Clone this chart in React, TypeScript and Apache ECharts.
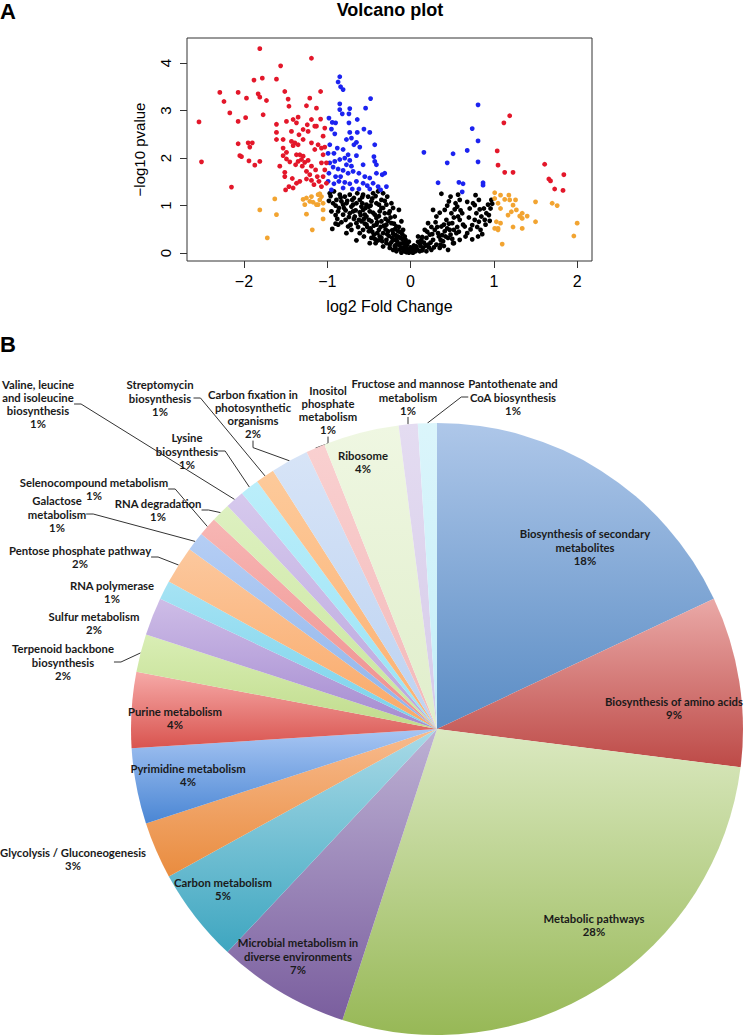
import React, { useEffect, useRef } from "react";
import * as echarts from "echarts";

// ---------------- Volcano plot data ----------------
const X_TICKS = [-2, -1, 0, 1, 2];
const Y_TICKS = [0, 1, 2, 3, 4];

const RED_POINTS = [
  [-1.81, 4.3], [-1.19, 4.1], [-1.56, 3.94], [-2.29, 3.38], [-2.07, 3.38], [-2.24, 3.19], [-1.97, 3.26],
  [-1.88, 3.64], [-1.78, 3.68], [-1.61, 3.66], [-1.83, 3.35], [-1.81, 3.28], [-1.73, 3.21], [-1.51, 3.4],
  [-1.47, 3.24], [-1.46, 3.09], [-1.21, 3.26], [-1.08, 3.4], [-2.17, 2.95], [-2.07, 2.77], [-1.98, 2.85],
  [-1.77, 2.91], [-2.54, 2.76], [-2.51, 1.92], [-2.15, 1.39], [-2.07, 2.3], [-2.05, 2.05], [-2.03, 2.03],
  [-1.95, 2.32], [-1.93, 2.23], [-1.9, 2.32], [-1.94, 1.94], [-1.87, 1.85], [-1.81, 1.93], [-1.61, 2.71],
  [-1.61, 2.54], [-1.61, 2.39], [-1.53, 2.21], [-1.53, 2.05], [-1.49, 2.12], [-1.49, 1.98], [-1.45, 1.92],
  [-1.57, 1.83], [-1.51, 1.7], [-1.51, 1.61], [-1.42, 1.57], [-1.46, 1.4], [-1.5, 1.33], [-1.41, 1.37],
  [-1.37, 1.47], [-1.33, 1.51], [-1.37, 2.74], [-1.35, 2.86], [-1.41, 2.81], [-1.49, 2.77], [-1.43, 2.35],
  [-1.39, 2.32], [-1.35, 2.28], [-1.41, 2.26], [-1.37, 2.07], [-1.33, 2.07], [-1.29, 2.04], [-1.31, 1.97],
  [-1.35, 1.93], [-1.27, 1.91], [-1.23, 1.95], [-1.38, 1.86], [-1.3, 1.83], [-1.25, 1.72], [-1.19, 1.83],
  [-1.21, 1.65], [-1.25, 1.56], [-1.19, 1.53], [-1.16, 1.44], [-1.14, 1.75], [-1.12, 1.61], [-1.1, 1.51],
  [-1.07, 1.9], [-1.05, 2.07], [-1.07, 2.21], [-1.03, 2.23], [-1.11, 2.28], [-1.15, 2.18], [-1.19, 2.32],
  [-1.29, 2.39], [-1.23, 2.56], [-1.24, 2.7], [-1.19, 2.81], [-1.13, 2.67], [-1.08, 2.82], [-1.03, 2.63],
  [-1.05, 2.46], [-1.13, 3.05], [-1.25, 3.1], [-1.29, 2.6], [-1.15, 2.67], [-1.01, 1.9], [-1.03, 1.75],
  [-1.05, 1.61], [-1.01, 1.47], [-1.07, 1.4], [-1.53, 2.39], [-1.43, 2.56], [-1.34, 2.49],
  [1.19, 2.89], [1.12, 2.74], [1.04, 2.15], [1.05, 1.85], [1.13, 1.7], [1.23, 1.7], [1.61, 1.87],
  [1.66, 1.56], [1.68, 1.52], [1.84, 1.65], [1.73, 1.35], [1.83, 1.32],
];

const ORANGE_POINTS = [
  [-1.81, 0.91], [-1.63, 1.14], [-1.61, 0.81], [-1.72, 0.32], [-1.29, 1.13], [-1.25, 1.16], [-1.21, 1.09],
  [-1.19, 1.19], [-1.27, 1.02], [-1.17, 1.07], [-1.13, 1.02], [-1.11, 1.23], [-1.09, 1.25], [-1.07, 1.19],
  [-1.09, 1.12], [-1.05, 1.05], [-1.11, 1.02], [-1.18, 0.49], [-1.25, 0.82], [-1.05, 0.91], [-1.05, 0.72],
  [1.01, 1.27], [1.01, 1.15], [1.08, 1.22], [1.18, 1.22], [1.05, 1.05], [1.13, 1.13], [1.19, 1.12],
  [1.26, 1.12], [1.08, 0.94], [1.23, 1.01], [1.21, 0.87], [1.27, 0.91], [1.34, 0.84], [1.31, 0.78],
  [1.4, 0.78], [1.34, 0.73], [1.5, 1.08], [1.5, 0.66], [1.7, 1.05], [1.76, 1.0], [2.0, 0.63], [1.96, 0.36],
  [1.1, 0.19], [1.03, 0.66], [1.01, 0.52], [1.05, 0.52], [1.08, 0.63], [1.23, 0.55], [1.34, 0.52],
  [1.17, 0.8], [1.05, 0.49],
];

const BLUE_POINTS = [
  [-0.85, 3.71], [-0.87, 3.6], [-0.84, 3.5], [-0.81, 3.44], [-0.48, 3.25], [-0.85, 3.14], [-0.85, 3.02],
  [-0.73, 3.04], [-0.54, 3.05], [-0.82, 2.93], [-0.74, 2.93], [-0.98, 2.84], [-0.94, 2.75], [-0.9, 2.74],
  [-0.64, 2.81], [-0.95, 2.61], [-0.91, 2.51], [-0.74, 2.74], [-0.64, 2.54], [-0.73, 2.54], [-0.56, 2.61],
  [-0.49, 2.54], [-0.77, 2.39], [-0.71, 2.42], [-0.65, 2.33], [-0.68, 2.28], [-0.61, 2.23], [-0.43, 2.28],
  [-0.97, 2.28], [-0.99, 2.1], [-0.92, 2.1], [-0.88, 2.21], [-0.81, 2.18], [-0.75, 2.07], [-0.65, 2.05],
  [-0.44, 2.03], [-0.43, 1.93], [-0.41, 1.86], [-0.97, 1.9], [-0.91, 1.93], [-0.85, 1.97], [-0.79, 2.0],
  [-0.73, 1.95], [-0.77, 1.86], [-0.71, 1.83], [-0.57, 1.86], [-0.93, 1.81], [-0.87, 1.77], [-0.81, 1.74],
  [-0.98, 1.68], [-0.9, 1.61], [-0.84, 1.61], [-0.75, 1.68], [-0.69, 1.72], [-0.62, 1.68], [-0.55, 1.61],
  [-0.49, 1.58], [-0.41, 1.68], [-0.34, 1.65], [-0.31, 1.68], [-0.99, 1.51], [-0.92, 1.46], [-0.86, 1.51],
  [-0.79, 1.49], [-0.73, 1.46], [-0.65, 1.51], [-0.57, 1.47], [-0.52, 1.42], [-0.45, 1.47], [-0.39, 1.4],
  [-0.95, 1.33], [-0.81, 1.37], [-0.7, 1.35], [-0.62, 1.35], [-0.49, 1.35], [-0.36, 1.33], [-0.29, 1.4],
  [0.81, 3.12], [0.74, 2.62], [0.81, 2.36], [0.68, 2.16], [0.51, 2.09], [0.44, 1.9], [0.16, 2.12],
  [0.81, 1.92], [0.33, 1.48], [0.58, 1.49], [0.63, 1.46], [0.87, 1.48], [0.87, 1.43], [0.62, 1.29],
];

const BLACK_POINTS = [
  [-0.98, 1.1], [-0.94, 0.51], [-0.97, 1.26], [-0.92, 1.3], [-0.9, 1.0], [-0.87, 0.88], [-0.88, 0.72],
  [-0.83, 0.65], [-0.78, 0.7], [-0.75, 0.56], [-0.81, 0.81], [-0.85, 1.23], [-0.79, 1.19], [-0.73, 1.23],
  [-0.68, 1.16], [-0.64, 1.26], [-0.57, 1.23], [-0.51, 1.19], [-0.45, 1.26], [-0.39, 1.3], [-0.33, 1.26],
  [-0.28, 1.19], [-0.77, 1.05], [-0.71, 0.98], [-0.65, 1.05], [-0.59, 0.98], [-0.53, 1.02], [-0.47, 1.09],
  [-0.41, 1.05], [-0.35, 1.12], [-0.29, 1.02], [-0.23, 1.05], [-0.73, 0.84], [-0.67, 0.77], [-0.61, 0.86],
  [-0.55, 0.81], [-0.49, 0.88], [-0.43, 0.81], [-0.37, 0.88], [-0.31, 0.84], [-0.25, 0.88], [-0.19, 0.77],
  [-0.65, 0.63], [-0.59, 0.67], [-0.53, 0.6], [-0.47, 0.67], [-0.41, 0.6], [-0.35, 0.67], [-0.29, 0.6],
  [-0.23, 0.63], [-0.17, 0.56], [-0.61, 0.42], [-0.56, 0.35], [-0.5, 0.46], [-0.44, 0.39], [-0.38, 0.49],
  [-0.33, 0.42], [-0.27, 0.46], [-0.21, 0.41], [-0.15, 0.46], [-0.65, 0.27], [-0.49, 0.21], [-0.39, 0.27],
  [-0.29, 0.28], [-0.23, 0.23], [-0.17, 0.3], [-0.12, 0.32], [-0.33, 0.14], [-0.25, 0.11], [-0.19, 0.15],
  [-0.14, 0.18], [-0.09, 0.21], [-0.11, 0.11], [-0.06, 0.14], [-0.03, 0.07], [-0.07, 0.04], [0.01, 0.05],
  [0.03, 0.01], [-0.02, 0.01], [0.05, 0.07], [-0.17, 0.04], [-0.21, 0.07], [-0.11, 0.01], [-0.05, 0.11],
  [-0.22, 0.32], [-0.35, 0.32], [-0.47, 0.32], [-0.57, 0.49], [-0.71, 0.49], [-0.77, 0.42], [-0.42, 0.21],
  [-0.53, 0.77], [-0.81, 1.02], [-0.89, 1.12], [-0.61, 1.12], [-0.33, 0.95], [-0.21, 0.95], [-0.14, 0.91],
  [-0.11, 0.67], [-0.41, 0.74], [-0.69, 0.88], [-0.83, 1.09], [-0.57, 0.91], [-0.09, 0.49], [-0.07, 0.35],
  [-0.17, 0.18], [-0.29, 0.21], [-0.68, 0.72], [-0.62, 0.7], [-0.55, 0.62], [-0.48, 0.52], [-0.44, 0.58],
  [-0.4, 0.42], [-0.36, 0.55], [-0.3, 0.5], [-0.26, 0.36], [-0.22, 0.48], [-0.18, 0.38], [-0.16, 0.25],
  [-0.12, 0.2], [-0.08, 0.12], [-0.04, 0.18], [-0.95, 0.88], [-0.9, 0.62], [-0.86, 0.95], [-0.78, 0.9],
  [-0.7, 1.12], [-0.58, 1.05], [-0.5, 0.98], [-0.46, 1.15], [-0.38, 1.02], [-0.3, 0.72], [-0.26, 0.84],
  [-0.2, 0.62], [-0.14, 0.55], [-0.1, 0.4], [-0.06, 0.28], [-0.02, 0.24],
  [-0.96, 1.2], [-0.93, 1.05], [-0.9, 0.8], [-0.87, 0.6], [-0.84, 1.17], [-0.8, 0.95], [-0.76, 1.1],
  [-0.74, 0.76], [-0.72, 0.6], [-0.69, 1.02], [-0.66, 0.9], [-0.63, 0.55], [-0.6, 0.8], [-0.58, 1.18],
  [-0.56, 0.72], [-0.54, 0.95], [-0.52, 0.55], [-0.5, 0.7], [-0.48, 1.0], [-0.46, 0.45], [-0.45, 0.85],
  [-0.43, 0.3], [-0.42, 1.2], [-0.4, 0.65], [-0.38, 0.78], [-0.37, 0.35], [-0.35, 0.95], [-0.34, 0.25],
  [-0.32, 0.58], [-0.31, 1.1], [-0.28, 0.4], [-0.27, 0.68], [-0.25, 0.18], [-0.24, 0.75], [-0.2, 0.28],
  [-0.19, 0.5], [-0.18, 0.1], [-0.15, 0.35], [-0.13, 0.08], [-0.13, 0.45], [-0.1, 0.3], [-0.08, 0.05],
  [-0.07, 0.22], [-0.05, 0.02], [-0.04, 0.08], [-0.01, 0.04], [0.0, 0.12], [0.02, 0.02],
  [0.07, 0.14], [0.11, 0.21], [0.15, 0.11], [0.13, 0.28], [0.19, 0.32], [0.21, 0.18], [0.25, 0.07],
  [0.23, 0.39], [0.27, 0.28], [0.29, 0.49], [0.31, 0.18], [0.34, 0.35], [0.37, 0.56], [0.39, 0.25],
  [0.41, 0.46], [0.43, 0.7], [0.45, 0.32], [0.47, 0.49], [0.49, 0.84], [0.5, 0.63], [0.52, 0.21],
  [0.54, 1.05], [0.55, 0.42], [0.57, 0.77], [0.37, 1.25], [0.48, 1.19], [0.57, 1.23], [0.27, 0.91],
  [0.31, 0.77], [0.21, 0.63], [0.17, 0.49], [0.09, 0.35], [0.45, 0.07], [0.35, 0.11], [0.19, 0.04],
  [0.11, 0.04], [0.41, 0.91], [0.46, 1.09], [0.02, 0.1], [0.06, 0.04], [0.12, 0.15], [0.16, 0.22],
  [0.22, 0.12], [0.26, 0.4], [0.32, 0.55], [0.36, 0.18], [0.42, 0.35], [0.46, 0.62], [0.52, 0.75],
  [0.56, 0.55], [0.78, 1.22], [0.97, 1.12], [0.98, 1.04], [0.91, 0.84], [0.94, 0.8], [0.85, 0.77],
  [0.82, 0.66], [0.77, 0.7], [0.84, 0.49], [0.81, 0.35], [0.74, 0.29], [0.68, 0.42], [0.65, 0.56],
  [0.62, 0.84], [0.71, 0.94], [0.68, 1.08], [0.59, 1.12], [0.56, 0.98], [0.77, 1.01], [0.88, 0.94],
  [0.79, 0.84], [0.74, 0.59], [0.59, 0.7], [0.52, 0.49], [0.59, 0.28], [0.51, 0.21], [0.89, 0.7],
  [0.96, 0.94], [0.82, 1.12], [0.48, 0.39], [0.36, 0.28],
  [0.04, 0.16], [0.08, 0.08], [0.09, 0.24], [0.14, 0.06], [0.14, 0.34], [0.18, 0.16], [0.2, 0.45],
  [0.24, 0.22], [0.25, 0.55], [0.28, 0.12], [0.3, 0.65], [0.33, 0.42], [0.35, 0.85], [0.38, 0.38],
  [0.4, 0.15], [0.4, 0.6], [0.44, 1.0], [0.44, 0.52], [0.5, 0.3], [0.53, 0.92], [0.58, 0.45],
  [0.6, 0.9], [0.63, 0.6], [0.66, 0.35], [0.7, 0.75], [0.72, 0.5], [0.75, 1.05], [0.8, 0.55],
  [0.83, 0.92], [0.86, 0.4], [0.9, 0.6], [0.93, 1.02], [0.95, 0.68],
];

// ---------------- Pie chart data ----------------
const PIE_LABELS = [
  "Biosynthesis of secondary\nmetabolites",
  "Biosynthesis of amino acids",
  "Metabolic pathways",
  "Microbial metabolism in\ndiverse environments",
  "Carbon metabolism",
  "Glycolysis / Gluconeogenesis",
  "Pyrimidine metabolism",
  "Purine metabolism",
  "Terpenoid backbone\nbiosynthesis",
  "Sulfur metabolism",
  "RNA polymerase",
  "Pentose phosphate pathway",
  "Galactose\nmetabolism",
  "Selenocompound metabolism",
  "RNA degradation",
  "Valine, leucine\nand isoleucine\nbiosynthesis",
  "Lysine\nbiosynthesis",
  "Streptomycin\nbiosynthesis",
  "Carbon fixation in\nphotosynthetic\norganisms",
  "Inositol\nphosphate\nmetabolism",
  "Ribosome",
  "Fructose and mannose\nmetabolism",
  "Pantothenate and\nCoA biosynthesis",
];
const PIE_PERCENTS = [18, 9, 28, 7, 5, 3, 4, 4, 2, 2, 1, 2, 1, 1, 1, 1, 1, 1, 2, 1, 4, 1, 1];

// ---------------- Styles ----------------
const PIE_TOP = [
  "#aec7e9", "#eaa9a7", "#dbe9c1", "#bdb1d4", "#a9dae7", "#f8bb8e", "#a8c6f3", "#f6aaa8",
  "#d9eeb5", "#cebde7", "#a6e3f4", "#fcc89e", "#b5cef4", "#f7b6b4", "#ddf0c0", "#d6c9ed",
  "#bbeefa", "#fdca9b", "#d7e4f7", "#f9d0d0", "#eff7e2", "#e4dcf1", "#dbf5fb",
];
const PIE_BOTTOM = [
  "#5a8cc4", "#bd4a47", "#97b856", "#7a5e9e", "#3ea6c0", "#e98c3f", "#4a86d4", "#d9544f",
  "#c0dc8c", "#a48ad0", "#79d2ea", "#f9a866", "#8fb3ea", "#ee8e8c", "#c9e69c", "#b9a5dd",
  "#97e2f5", "#fbb070", "#bcd2f1", "#f3b9b9", "#e0eecb", "#d6cbe9", "#c4eef8",
];
const LABEL_POS = [
  [585, 547], [674, 708], [594, 925], [298, 956], [223, 889], [73, 859], [188, 775], [175, 718],
  [63, 662], [94, 623], [112, 592], [80, 557], [57, 514], [94, 489], [158, 510], [38, 404],
  [187, 451], [160, 398], [253, 414], [328, 410], [363, 462], [408, 397], [513, 397],
];
const HAS_LEADER = [
  false, false, false, false, false, false, false, false,
  true, false, false, true, true, true, true, true,
  true, true, true, true, false, true, true,
];

const SANS = "'Liberation Sans', Arial, Helvetica, sans-serif";
const PIE_FONT = "Lato, 'Open Sans', sans-serif";

const fmtTick = (v: number) => (v < 0 ? "\u2212" + Math.abs(v) : String(v));

export default function App() {
  const ref = useRef<HTMLDivElement>(null);

  useEffect(() => {
    if (!ref.current) return;
    const chart = echarts.init(ref.current, null, { renderer: "svg" });

    const pieData = PIE_LABELS.map((name, i) => ({
      name,
      value: PIE_PERCENTS[i],
      itemStyle: {
        color: new echarts.graphic.LinearGradient(0, 0, 0, 1, [
          { offset: 0, color: PIE_TOP[i] },
          { offset: 1, color: PIE_BOTTOM[i] },
        ]),
      },
      labelLine: { show: HAS_LEADER[i] },
    }));

    const scatter = (data: number[][], color: string) => ({
      type: "scatter",
      data,
      symbol: "circle",
      symbolSize: 4.8,
      itemStyle: { color, opacity: 1 },
      silent: true,
    });

    chart.setOption({
      animation: false,
      textStyle: { fontFamily: SANS },
      graphic: [
        {
          type: "text",
          x: 0,
          y: 0,
          style: { text: "A", fontSize: 22, fontWeight: "bold", fontFamily: SANS, fill: "#000", verticalAlign: "top" },
        },
        {
          type: "text",
          x: 0,
          y: 333,
          style: { text: "B", fontSize: 22, fontWeight: "bold", fontFamily: SANS, fill: "#000", verticalAlign: "top" },
        },
        {
          type: "text",
          x: 390,
          y: 1,
          style: {
            text: "Volcano plot",
            fontSize: 18,
            fontWeight: "bold",
            fontFamily: SANS,
            fill: "#000",
            align: "center",
            verticalAlign: "top",
          },
        },
      ],
      grid: {
        left: 187,
        top: 38,
        width: 405,
        height: 223,
        show: true,
        borderColor: "#333",
        borderWidth: 1,
        backgroundColor: "transparent",
        outerBoundsMode: "none",
        containLabel: false,
      },
      xAxis: {
        type: "value",
        min: -2.684,
        max: 2.178,
        position: "bottom",
        name: "log2 Fold Change",
        nameLocation: "middle",
        nameGap: 37,
        nameTextStyle: { fontSize: 16, color: "#000", fontFamily: SANS },
        axisLine: { show: false, onZero: false },
        axisTick: { show: true, length: 7, lineStyle: { color: "#333" }, customValues: X_TICKS },
        axisLabel: { customValues: X_TICKS, formatter: fmtTick, fontSize: 16, color: "#000", margin: 12, fontFamily: SANS },
        splitLine: { show: false },
      },
      yAxis: {
        type: "value",
        min: -0.165,
        max: 4.525,
        position: "left",
        name: "\u2212log10 pvalue",
        nameLocation: "middle",
        nameGap: 40,
        nameRotate: 90,
        nameTextStyle: { fontSize: 15, color: "#000", fontFamily: SANS },
        axisLine: { show: false, onZero: false },
        axisTick: { show: true, length: 7, lineStyle: { color: "#333" }, customValues: Y_TICKS },
        axisLabel: { customValues: Y_TICKS, rotate: 90, fontSize: 15, color: "#000", margin: 14, fontFamily: SANS },
        splitLine: { show: false },
      },
      series: [
        scatter(BLACK_POINTS, "#000000"),
        scatter(ORANGE_POINTS, "#f2a431"),
        scatter(BLUE_POINTS, "#1c23f0"),
        scatter(RED_POINTS, "#e3172a"),
        {
          type: "pie",
          center: [437, 729],
          radius: 306,
          startAngle: 90,
          clockwise: true,
          avoidLabelOverlap: false,
          silent: true,
          data: pieData,
          itemStyle: { borderWidth: 0 },
          label: {
            show: true,
            position: "outside",
            overflow: "none",
            formatter: (p: any) => PIE_LABELS[p.dataIndex] + "\n" + PIE_PERCENTS[p.dataIndex] + "%",
            fontFamily: PIE_FONT,
            fontWeight: "bold",
            fontSize: 11.3,
            lineHeight: 13.3,
            color: "#1a1a1a",
            align: "center",
          },
          labelLine: {
            length: 10,
            length2: 7,
            smooth: false,
            lineStyle: { color: "#333", width: 1 },
          },
          labelLayout: (params: any) => {
            const p = LABEL_POS[params.dataIndex];
            return { x: p[0], y: p[1], align: "center", verticalAlign: "middle", hideOverlap: false };
          },
        },
      ],
    });

    return () => chart.dispose();
  }, []);

  return (
    <div
      ref={ref}
      style={{ position: "absolute", left: 0, top: 0, width: 753, height: 1036 }}
    />
  );
}
